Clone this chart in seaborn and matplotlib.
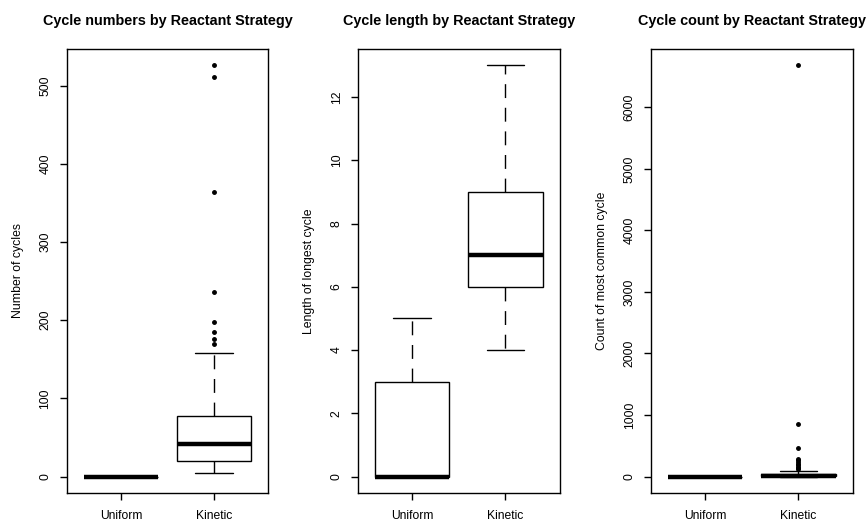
import matplotlib
matplotlib.use("Agg")
import matplotlib.pyplot as plt
import seaborn as sns
import pandas as pd

# ---- data ----
categories = ["Uniform", "Kinetic"]

uniform_cycles = [0, 0, 0, 0, 0, 0, 0, 0, 0, 0, 0, 0, 0, 0, 0, 0, 0, 0, 0, 0, 0]
kinetic_cycles = [5, 8, 11, 13, 15, 16, 17, 18, 19, 19.5,
                  20, 22, 25, 28, 30, 32, 34, 36, 38, 40,
                  42, 45, 48, 52, 55, 58, 62, 66, 70, 74,
                  77, 110, 158,
                  169, 176, 185, 198, 236, 364, 511, 526]

uniform_length = [0, 0, 0, 0, 0, 0, 0, 0, 0, 0, 0, 0, 0, 0, 0, 0, 0, 0, 0, 0, 0,
                  1, 1, 1, 2, 2, 2, 2, 3, 3, 3,
                  3, 3, 3, 4, 4, 4, 4, 5, 5, 5]
kinetic_length = [4, 4, 5, 5, 5, 5, 5, 6, 6, 6,
                  6, 6, 6, 6, 6, 6, 7, 7, 7, 7,
                  7, 7, 7, 7, 8, 8, 8, 8, 8, 9,
                  9, 9, 9, 10, 10, 11, 11, 12, 12, 13, 13]

uniform_count = [0, 0, 0, 0, 0, 0, 0, 0, 0, 0, 0, 0, 0, 0, 0, 0, 0, 0, 0, 0, 0]
kinetic_count = [0, 0, 0, 1, 1, 1, 1, 2, 2, 2, 2, 3, 3,
                 4, 5, 6, 7, 8, 9, 10, 11, 12, 13, 14, 15,
                 17, 19, 21, 23, 25, 28, 31, 34, 37, 40, 43, 45,
                 90,
                 120, 140, 160, 180, 210, 240, 265, 282, 459, 860, 6680]

titles = ["Cycle numbers by Reactant Strategy",
          "Cycle length by Reactant Strategy",
          "Cycle count by Reactant Strategy"]
ylabels = ["Number of cycles", "Length of longest cycle", "Count of most common cycle"]
yticks = [[0, 100, 200, 300, 400, 500],
          [0, 2, 4, 6, 8, 10, 12],
          [0, 1000, 2000, 3000, 4000, 5000, 6000]]

panels = [(uniform_cycles, kinetic_cycles),
          (uniform_length, kinetic_length),
          (uniform_count, kinetic_count)]

# ---- style ----
sns.set_theme(style="ticks")
plt.rcParams["font.family"] = ["Liberation Sans", "DejaVu Sans"]
plt.rcParams["lines.scale_dashes"] = False
plt.rcParams["text.color"] = "black"
plt.rcParams["axes.labelcolor"] = "black"
plt.rcParams["xtick.color"] = "black"
plt.rcParams["ytick.color"] = "black"

fig = plt.figure(figsize=(8.68, 5.29), dpi=100)
lefts = [66.7, 358, 651]
width_px = 201.6
bottom = 36 / 529
height = (493 - 49) / 529

for i, ((u, k), title, ylab, yt) in enumerate(zip(panels, titles, ylabels, yticks)):
    ax = fig.add_axes([lefts[i] / 868, bottom, width_px / 868, height])
    df = pd.DataFrame({
        "strategy": [categories[0]] * len(u) + [categories[1]] * len(k),
        "value": list(u) + list(k),
    })
    sns.boxplot(data=df, x="strategy", y="value", order=categories, ax=ax,
                color="white", linecolor="black", linewidth=1.0, width=0.8,
                whis=1.5, fliersize=2.5,
                boxprops=dict(facecolor="white", edgecolor="black", linewidth=1.0),
                whiskerprops=dict(color="black", linewidth=1.0, linestyle=(0, (10, 7))),
                capprops=dict(color="black", linewidth=1.0),
                medianprops=dict(color="black", linewidth=3.2, solid_capstyle="butt"),
                flierprops=dict(marker="o", markerfacecolor="black",
                                markeredgecolor="black", markersize=2.5))
    data_all = list(u) + list(k)
    lo, hi = min(data_all), max(data_all)
    pad = 0.04 * (hi - lo)
    ax.set_ylim(lo - pad, hi + pad)
    ax.set_xlim(-0.58, 1.58)
    ax.set_yticks(yt)
    ax.set_yticklabels([str(t) for t in yt], rotation=90, va="center", fontsize=8.7)
    ax.set_xticks([0, 1])
    ax.set_xticklabels(categories, fontsize=8.7)
    ax.tick_params(axis="both", direction="out", length=5, width=1.0, colors="black")
    ax.tick_params(axis="y", pad=6)
    ax.tick_params(axis="x", pad=7)
    ax.set_xlabel("")
    ax.set_ylabel(ylab, fontsize=8.8)
    ax.yaxis.set_label_coords(-0.213, 0.5)
    ax.set_title(title, fontsize=10.4, fontweight="bold", pad=17)
    for s in ax.spines.values():
        s.set_visible(True)
        s.set_color("black")
        s.set_linewidth(1.0)

fig.savefig("out.png", dpi=100, facecolor="white")
